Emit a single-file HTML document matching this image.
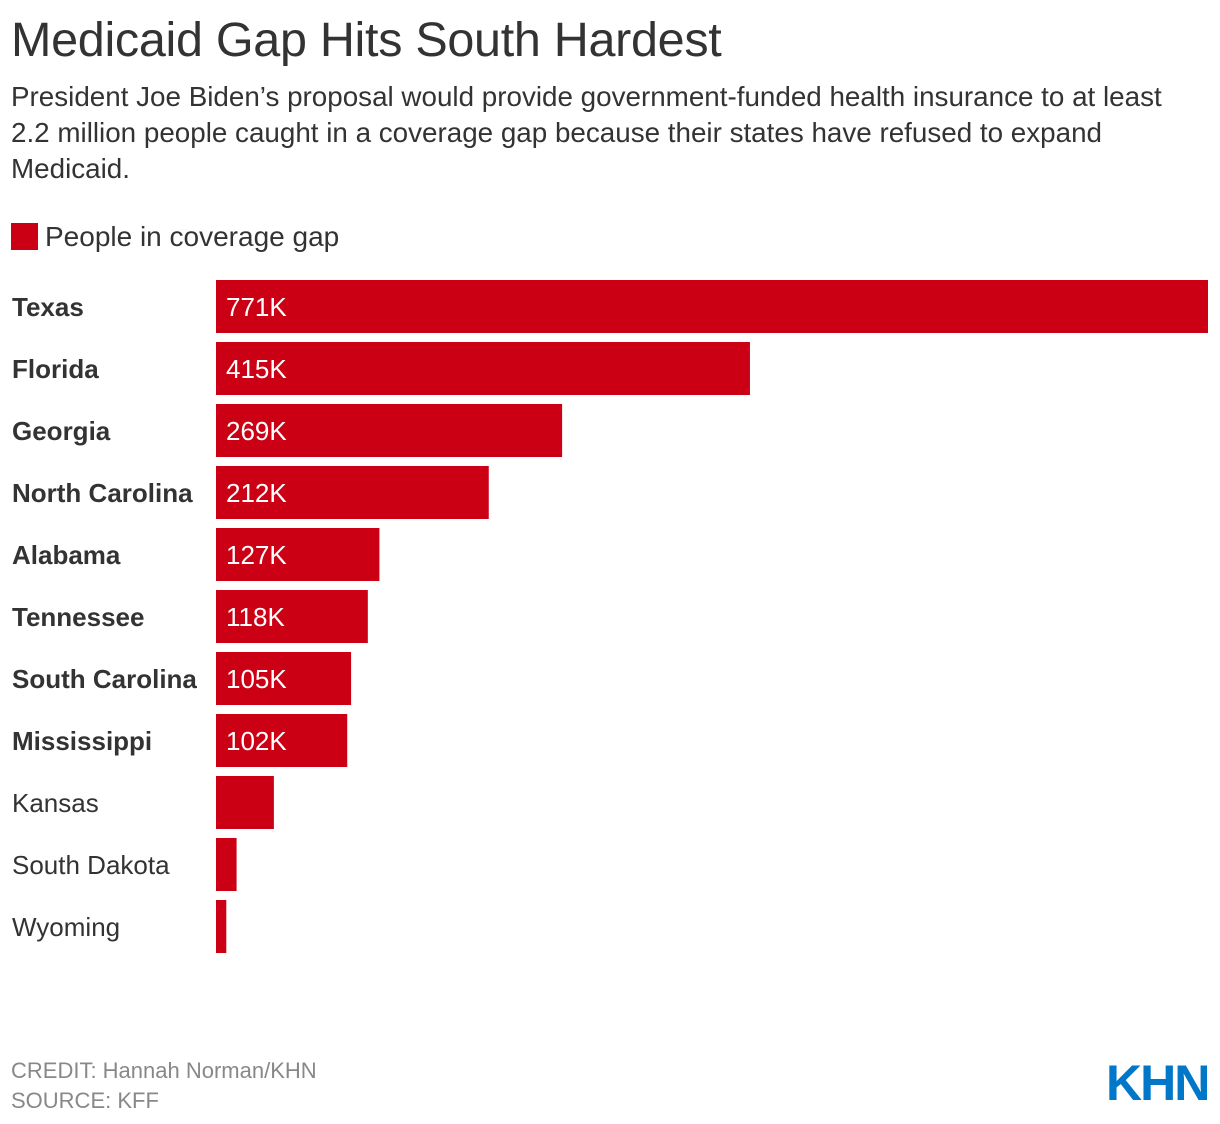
<!DOCTYPE html>
<html><head><meta charset="utf-8"><style>
body{margin:0;background:#fff;font-family:"Liberation Sans",Arial,sans-serif;}
#wrap{position:relative;width:1220px;height:1124px;overflow:hidden;}
h1{position:absolute;left:11px;top:12px;margin:0;font-weight:normal;font-size:48.5px;color:#333;letter-spacing:-0.3px;}
.sub{position:absolute;left:11px;top:79px;width:1180px;font-size:27.8px;line-height:36px;color:#333;margin:0;}
.legend{position:absolute;left:11px;top:221px;font-size:28px;color:#333;}
.legend span.sw{display:inline-block;width:27px;height:27px;background:#cc0014;vertical-align:-4px;margin-right:7px;}
.foot{position:absolute;left:11px;font-size:22px;color:#888;}
</style></head><body>
<div id="wrap">
<h1>Medicaid Gap Hits South Hardest</h1>
<p class="sub">President Joe Biden’s proposal would provide government-funded health insurance to at least 2.2 million people caught in a coverage gap because their states have refused to expand Medicaid.</p>
<div class="legend"><span class="sw"></span>People in coverage gap</div>
<svg id="chart" width="1220" height="1124" style="position:absolute;left:0;top:0"></svg>
<div class="foot" style="top:1058px">CREDIT: Hannah Norman/KHN</div>
<div class="foot" style="top:1088px">SOURCE: KFF</div>
<div style="position:absolute;left:1106px;top:1054px;font-size:50px;font-weight:bold;color:#0077c8;letter-spacing:-2px;">KHN</div>
</div>
<script>
const categories=["Texas","Florida","Georgia","North Carolina","Alabama","Tennessee","South Carolina","Mississippi","Kansas","South Dakota","Wyoming"];
const values=[771,415,269,212,127,118,105,102,45,16,8];
const valueLabels=["771K","415K","269K","212K","127K","118K","105K","102K","","",""];
const boldFlags=[1,1,1,1,1,1,1,1,0,0,0];
const svg=document.getElementById('chart');
const NS='http://www.w3.org/2000/svg';
const x0=216,xMax=1208,maxV=771;
function xScale(v){return x0+(v/maxV)*(xMax-x0);}
function yScale(i){return 280+i*62;}
categories.forEach((c,i)=>{
  const y=yScale(i);
  const t=document.createElementNS(NS,'text');
  
  
  t.setAttribute('x',12);t.setAttribute('y',y+36);
  t.setAttribute('font-size','26');t.setAttribute('fill','#333');
  t.setAttribute('font-family','Liberation Sans, Arial, sans-serif');
  if(boldFlags[i])t.setAttribute('font-weight','bold');
  t.textContent=c;svg.appendChild(t);
  const r=document.createElementNS(NS,'rect');
  
  
  r.setAttribute('x',x0);r.setAttribute('y',y);
  r.setAttribute('width',xScale(values[i])-x0);r.setAttribute('height',53);
  r.setAttribute('fill','#cc0014');svg.appendChild(r);
  if(valueLabels[i]){
    const v=document.createElementNS(NS,'text');
    
    
    v.setAttribute('x',x0+10);v.setAttribute('y',y+36);
    v.setAttribute('font-size','26');v.setAttribute('fill','#fff');
    v.setAttribute('font-family','Liberation Sans, Arial, sans-serif');
    v.textContent=valueLabels[i];svg.appendChild(v);
  }
});
</script>
</body></html>
